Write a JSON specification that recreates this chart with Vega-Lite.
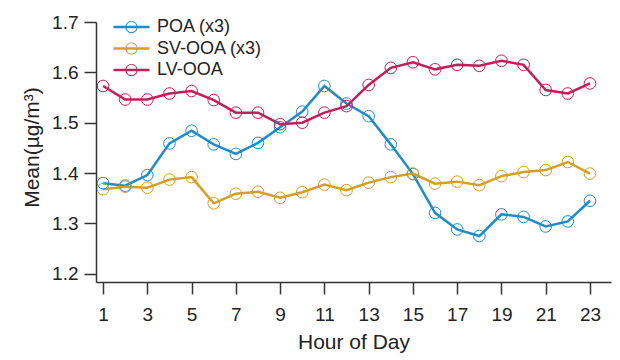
{
  "$schema": "https://vega.github.io/schema/vega-lite/v6.json",
  "width": 515,
  "height": 260,
  "autosize": {"type": "none"},
  "padding": {"left": 96, "top": 22, "right": 9, "bottom": 78},
  "background": "white",
  "config": {
    "view": {"stroke": null},
    "font": "Liberation Sans",
    "axis": {
      "grid": false,
      "domainColor": "#333333",
      "domainWidth": 1.5,
      "tickColor": "#333333",
      "tickWidth": 1.5,
      "tickSize": 12,
      "labelFont": "Liberation Sans",
      "labelFontSize": 19,
      "labelColor": "#222222",
      "titleFont": "Liberation Sans",
      "titleFontSize": 21,
      "titleFontWeight": "normal",
      "titleColor": "#222222"
    }
  },
  "data": {
    "values": [
      {"hour": 1, "series": "POA (x3)", "value": 1.380},
      {"hour": 2, "series": "POA (x3)", "value": 1.375},
      {"hour": 3, "series": "POA (x3)", "value": 1.396},
      {"hour": 4, "series": "POA (x3)", "value": 1.459},
      {"hour": 5, "series": "POA (x3)", "value": 1.484},
      {"hour": 6, "series": "POA (x3)", "value": 1.457},
      {"hour": 7, "series": "POA (x3)", "value": 1.438},
      {"hour": 8, "series": "POA (x3)", "value": 1.460},
      {"hour": 9, "series": "POA (x3)", "value": 1.491},
      {"hour": 10, "series": "POA (x3)", "value": 1.522},
      {"hour": 11, "series": "POA (x3)", "value": 1.573},
      {"hour": 12, "series": "POA (x3)", "value": 1.538},
      {"hour": 13, "series": "POA (x3)", "value": 1.513},
      {"hour": 14, "series": "POA (x3)", "value": 1.457},
      {"hour": 15, "series": "POA (x3)", "value": 1.398},
      {"hour": 16, "series": "POA (x3)", "value": 1.321},
      {"hour": 17, "series": "POA (x3)", "value": 1.288},
      {"hour": 18, "series": "POA (x3)", "value": 1.275},
      {"hour": 19, "series": "POA (x3)", "value": 1.318},
      {"hour": 20, "series": "POA (x3)", "value": 1.313},
      {"hour": 21, "series": "POA (x3)", "value": 1.294},
      {"hour": 22, "series": "POA (x3)", "value": 1.304},
      {"hour": 23, "series": "POA (x3)", "value": 1.345},
      {"hour": 1, "series": "SV-OOA (x3)", "value": 1.368},
      {"hour": 2, "series": "SV-OOA (x3)", "value": 1.373},
      {"hour": 3, "series": "SV-OOA (x3)", "value": 1.371},
      {"hour": 4, "series": "SV-OOA (x3)", "value": 1.387},
      {"hour": 5, "series": "SV-OOA (x3)", "value": 1.392},
      {"hour": 6, "series": "SV-OOA (x3)", "value": 1.340},
      {"hour": 7, "series": "SV-OOA (x3)", "value": 1.359},
      {"hour": 8, "series": "SV-OOA (x3)", "value": 1.363},
      {"hour": 9, "series": "SV-OOA (x3)", "value": 1.351},
      {"hour": 10, "series": "SV-OOA (x3)", "value": 1.362},
      {"hour": 11, "series": "SV-OOA (x3)", "value": 1.377},
      {"hour": 12, "series": "SV-OOA (x3)", "value": 1.366},
      {"hour": 13, "series": "SV-OOA (x3)", "value": 1.381},
      {"hour": 14, "series": "SV-OOA (x3)", "value": 1.392},
      {"hour": 15, "series": "SV-OOA (x3)", "value": 1.399},
      {"hour": 16, "series": "SV-OOA (x3)", "value": 1.379},
      {"hour": 17, "series": "SV-OOA (x3)", "value": 1.383},
      {"hour": 18, "series": "SV-OOA (x3)", "value": 1.376},
      {"hour": 19, "series": "SV-OOA (x3)", "value": 1.394},
      {"hour": 20, "series": "SV-OOA (x3)", "value": 1.402},
      {"hour": 21, "series": "SV-OOA (x3)", "value": 1.406},
      {"hour": 22, "series": "SV-OOA (x3)", "value": 1.422},
      {"hour": 23, "series": "SV-OOA (x3)", "value": 1.399},
      {"hour": 1, "series": "LV-OOA", "value": 1.573},
      {"hour": 2, "series": "LV-OOA", "value": 1.546},
      {"hour": 3, "series": "LV-OOA", "value": 1.546},
      {"hour": 4, "series": "LV-OOA", "value": 1.558},
      {"hour": 5, "series": "LV-OOA", "value": 1.563},
      {"hour": 6, "series": "LV-OOA", "value": 1.545},
      {"hour": 7, "series": "LV-OOA", "value": 1.520},
      {"hour": 8, "series": "LV-OOA", "value": 1.520},
      {"hour": 9, "series": "LV-OOA", "value": 1.497},
      {"hour": 10, "series": "LV-OOA", "value": 1.500},
      {"hour": 11, "series": "LV-OOA", "value": 1.520},
      {"hour": 12, "series": "LV-OOA", "value": 1.533},
      {"hour": 13, "series": "LV-OOA", "value": 1.575},
      {"hour": 14, "series": "LV-OOA", "value": 1.609},
      {"hour": 15, "series": "LV-OOA", "value": 1.620},
      {"hour": 16, "series": "LV-OOA", "value": 1.606},
      {"hour": 17, "series": "LV-OOA", "value": 1.615},
      {"hour": 18, "series": "LV-OOA", "value": 1.613},
      {"hour": 19, "series": "LV-OOA", "value": 1.623},
      {"hour": 20, "series": "LV-OOA", "value": 1.615},
      {"hour": 21, "series": "LV-OOA", "value": 1.565},
      {"hour": 22, "series": "LV-OOA", "value": 1.558},
      {"hour": 23, "series": "LV-OOA", "value": 1.578}
    ]
  },
  "encoding": {
    "x": {
      "field": "hour",
      "type": "quantitative",
      "scale": {"domain": [0.68, 23.95], "nice": false, "zero": false},
      "axis": {
        "title": "Hour of Day",
        "values": [1, 3, 5, 7, 9, 11, 13, 15, 17, 19, 21, 23],
        "labelPadding": 11,
        "titlePadding": 7
      }
    },
    "y": {
      "field": "value",
      "type": "quantitative",
      "scale": {"domain": [1.1837, 1.7], "nice": false, "zero": false},
      "axis": {
        "title": "Mean(µg/m³)",
        "values": [1.2, 1.3, 1.4, 1.5, 1.6, 1.7],
        "format": ".1f",
        "labelPadding": 6,
        "titlePadding": 9,
        "titleY": 125
      }
    },
    "color": {
      "field": "series",
      "type": "nominal",
      "scale": {
        "domain": ["POA (x3)", "SV-OOA (x3)", "LV-OOA"],
        "range": ["#1e8cc8", "#d69e22", "#c61d5a"]
      },
      "legend": {
        "title": null,
        "orient": "none",
        "legendX": 26.5,
        "legendY": -4,
        "padding": 0,
        "rowPadding": 3.5,
        "symbolType": "M-2,-0.14 L2,-0.14 L2,0.14 L-2,0.14 Z M0.68,0 A0.68,0.68 0 1,1 -0.68,0 A0.68,0.68 0 1,1 0.68,0 Z M0.57,0 A0.57,0.57 0 1,0 -0.57,0 A0.57,0.57 0 1,0 0.57,0 Z",
        "symbolSize": 324,
        "symbolStrokeWidth": 0,
        "labelOffset": 16.5,
        "labelFont": "Liberation Sans",
        "labelFontSize": 18,
        "labelColor": "#222222",
        "labelLimit": 300,
        "encode": {
          "symbols": {
            "update": {
              "fill": {"scale": "color", "field": "value"},
              "stroke": {"value": "transparent"},
              "strokeWidth": {"value": 0},
              "opacity": {"value": 1}
            }
          }
        }
      }
    }
  },
  "layer": [
    {
      "mark": {"type": "line", "strokeWidth": 2.5}
    },
    {
      "mark": {"type": "point", "shape": "circle", "filled": false, "size": 135, "strokeWidth": 1, "opacity": 1}
    }
  ]
}
